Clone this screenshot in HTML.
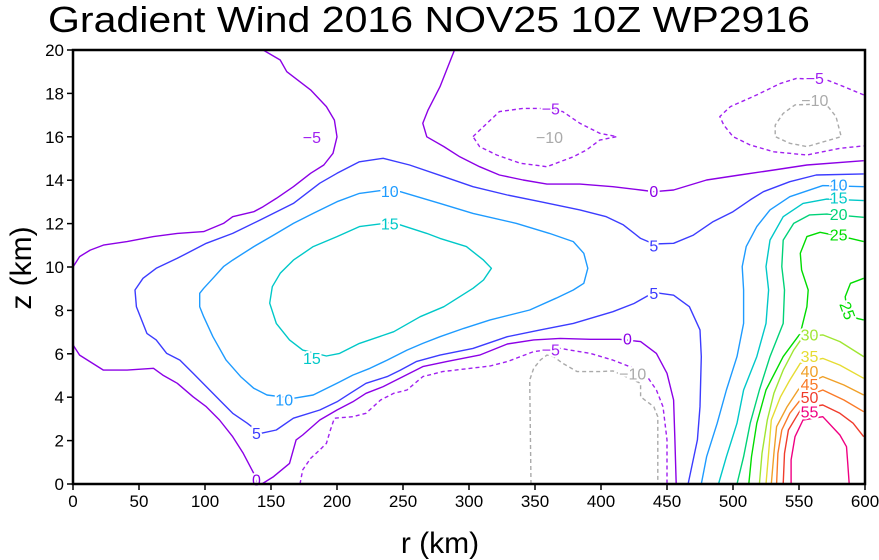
<!DOCTYPE html>
<html><head><meta charset="utf-8">
<style>
html,body{margin:0;padding:0;background:#fff;}
svg{display:block;font-family:"Liberation Sans",sans-serif;}
</style></head>
<body>
<svg id="chart" width="879" height="560" viewBox="0 0 879 560">
<text x="48" y="32" font-size="36" font-weight="normal" textLength="762" lengthAdjust="spacingAndGlyphs">Gradient Wind 2016 NOV25 10Z   WP2916</text>
<g id="contours"></g>
<g id="labels"></g>
<rect x="73" y="50" width="792" height="434" fill="none" stroke="#000" stroke-width="2.5"/>
<g id="axes"></g>
<text x="440" y="553" font-size="30" text-anchor="middle">r (km)</text>
<text transform="translate(31,268) rotate(-90)" font-size="30" text-anchor="middle">z (km)</text>
</svg>
<script>
const xTicks=[0,50,100,150,200,250,300,350,400,450,500,550,600];
const yTicks=[0,2,4,6,8,10,12,14,16,18,20];
// contour values, colors, dash flags
const levels=["0","0","0","0","5","10","15","10","15","20","25","25","30","35","40","45","50","55","-5","-5","-5","-10","-10"];
// r (km) coords per contour
const rs=[
[144,157,162,180,192,198,200,197,190,180,167,154,144,137,121,114,99,79,61,41,23,13,5,0],
[289,283,278,269,265,268,281,293,308,323,341,359,384,409,430,440,455,480,505,531,556,599],
[0,5,23,41,61,68,79,91,101,111,121,129,137,139],
[143,152,164,169,174,187,200,212,222,235,250,265,283,308,329,349,369,392,414,430,442,450,455,456,457],
[599,563,543,523,513,500,485,470,455,440,430,417,404,384,354,329,303,281,255,235,217,200,187,167,142,121,101,79,63,53,47,48,56,63,71,81,91,101,111,121,132,142,154,167,187,200,210,222,238,248,260,278,303,329,354,379,409,425,440,455,467,475,476,475,473,466],
[278,303,336,361,379,387,390,387,379,366,346,316,296,278,265,253,238,225,212,200,182,167,147,137,127,116,106,99,96,96,99,106,114,121,137,152,167,182,200,217,233,248,278],
[240,217,200,182,167,157,151,149,154,164,174,192,202,217,243,263,281,303,311,317,311,298,278,268,248,240],
[476,480,488,495,503,508,508,507,510,518,528,543,568,599],
[489,495,503,508,518,525,527,525,528,538,553,571,599],
[503,508,513,520,528,538,539,537,538,546,558,571,599],
[512,514,518,525,538,551,556,557,552,551,556,566,589,599],
[599,589,585,586,594,599],
[520,522,526,531,538,546,553,568,581,599],
[525,527,529,536,543,551,568,581,599],
[529,531,533,541,551,568,584,599],
[533,534,537,543,552,568,584,599],
[538,539,542,548,552,568,581,591,599],
[544,544,547,553,568,581,586,587,588],
[303,311,323,341,354,371,384,399,412,399,389,379,359,339,321,308,303],
[599,584,571,548,536,518,498,490,493,500,513,531,556,581,599],
[172,174,180,187,192,195,198,212,222,233,243,253,265,280,316,329,349,369,392,409,425,435,442,447,450,450],
[572,578,582,573,556,543,532,532,538,547,560,572],
[347,346,349,354,359,364,371,382,399,409,430,430,440,443,443,443]
];
// z (km) coords per contour
const zs=[
[20,19.54,19.0,18.16,17.39,16.77,16.0,15.24,14.7,14.32,13.7,13.16,12.78,12.55,12.32,12.01,11.63,11.55,11.4,11.17,11.01,10.78,10.48,10.0],
[20,19.08,18.31,17.24,16.62,16.0,15.55,15.08,14.62,14.24,14.01,13.82,13.82,13.7,13.55,13.47,13.55,14.01,14.24,14.47,14.7,14.9],
[6.41,5.94,5.25,5.25,5.33,5.02,4.64,4.02,3.56,2.95,2.18,1.41,0.49,0],
[0,0.34,0.95,2.03,2.26,2.95,3.41,3.79,4.18,4.49,4.95,5.41,5.64,5.94,6.45,6.64,6.71,6.67,6.67,6.56,6.02,5.1,3.87,2.03,0],
[14.29,14.24,13.93,13.47,13.09,12.55,12.09,11.47,11.09,11.06,11.32,11.94,12.32,12.63,13.01,13.32,13.7,14.16,14.7,15.01,14.85,14.32,13.86,12.93,12.17,11.55,11.09,10.4,9.94,9.48,8.94,8.17,6.94,6.64,6.02,5.71,5.1,4.49,3.87,3.26,2.8,2.33,2.49,3.03,3.41,3.79,4.18,4.64,4.95,5.25,5.64,5.94,6.25,6.79,7.1,7.4,7.94,8.32,8.83,8.7,8.17,7.1,5.87,3.56,2.03,0],
[12.93,12.47,12.01,11.55,11.17,10.63,9.94,9.25,8.94,8.56,8.02,7.56,7.17,6.79,6.48,6.17,5.71,5.33,5.02,4.64,4.1,3.95,4.1,4.41,4.95,5.71,6.79,7.71,8.17,8.79,9.02,9.48,10.02,10.32,10.94,11.47,12.01,12.47,13.01,13.39,13.52,13.47,12.93],
[12.04,11.86,11.4,10.94,10.32,9.71,9.09,8.33,7.4,6.64,6.17,5.9,6.02,6.48,7.02,7.71,8.17,9.02,9.4,9.94,10.32,10.94,11.32,11.55,11.94,12.04],
[0,1.26,2.8,4.33,5.87,7.4,8.94,10.02,10.94,11.86,12.63,13.24,13.75,13.7],
[0,1.26,2.8,4.33,5.87,7.4,8.94,10.02,11.24,12.32,12.93,13.13,13.06],
[0,1.26,2.8,4.33,5.87,7.4,8.94,10.02,11.24,12.01,12.4,12.44,12.29],
[0,1.26,2.8,4.33,5.87,6.94,8.17,8.94,9.86,10.63,11.4,11.6,11.32,11.17],
[9.48,9.25,8.63,8.17,7.63,7.56],
[0,1.41,2.95,4.18,5.25,6.17,6.79,6.87,6.56,5.87],
[0,1.41,2.95,4.02,4.79,5.56,5.79,5.48,4.87],
[0,1.41,2.64,3.56,4.49,4.95,4.56,4.1],
[0,1.41,2.49,3.26,3.95,4.33,3.87,3.33],
[0,1.41,2.49,3.1,3.49,3.64,3.26,2.8,2.18],
[0,1.11,2.18,2.95,3.1,2.26,1.72,0.92,0],
[16.01,16.47,17.16,17.31,17.31,17.16,16.62,16.16,16.01,15.85,15.39,15.08,14.62,14.78,15.16,15.55,16.01],
[17.93,18.31,18.62,18.69,18.46,17.93,17.39,16.93,16.54,16.01,15.62,15.31,15.16,15.47,15.58],
[0,0.65,1.18,1.57,1.87,2.49,3.03,3.1,3.26,3.87,4.18,4.33,4.95,5.18,5.44,5.64,6.1,6.25,6.02,5.71,5.33,4.95,4.33,3.56,2.03,0],
[17.39,16.93,16.01,15.85,15.55,15.7,16.01,16.54,17.08,17.47,17.5,17.39],
[0,4.79,5.33,5.71,5.94,5.87,5.56,5.18,5.18,5.21,4.64,4.02,3.56,3.1,2.03,0]
];
// label text and positions in data coords
const labelText=["-5","0","0","5","5","5","0","10","10","15","15","10","15","20","25","25","30","35","40","45","50","55","-5","-10","-5","-10","-5","-10"];
const labelR=[181,440,420,440,440,139,139,240,160,240,181,580,580,580,580,587,558,558,558,558,558,558,362,361,562,562,362,424];
const labelZ=[16.0,13.5,6.7,11.0,8.8,2.35,0.2,13.5,3.9,12.0,5.8,13.8,13.2,12.45,11.5,8.0,6.9,5.9,5.2,4.6,4.0,3.35,17.3,16.0,18.7,17.7,6.2,5.1];

const X0=73,X1=865,Y0=484,Y1=50;
function sx(r){return X0+(r/600)*(X1-X0);}
function sy(z){return Y0-(z/20)*(Y0-Y1);}
const colorMap={"0":"#8c00e6","5":"#3c3cff","10":"#1e9bff","15":"#00c8c8","20":"#00d278","25":"#00dc00","30":"#a0e632","35":"#e6dc32","40":"#f0a028","45":"#fa7a28","50":"#f03c2c","55":"#f00082","-5":"#a020f0","-10":"#aaaaaa"};
const NS="http://www.w3.org/2000/svg";
const cg=document.getElementById('contours');
for(let i=0;i<levels.length;i++){
  const v=levels[i];
  const d=rs[i].map((r,j)=>(j?'L':'M')+sx(r).toFixed(1)+','+sy(zs[i][j]).toFixed(1)).join(' ');
  const p=document.createElementNS(NS,'path');
  p.setAttribute('d',d);
  p.setAttribute('fill','none');
  p.setAttribute('stroke',colorMap[v]);
  p.setAttribute('stroke-width','1.4');
  p.setAttribute('stroke-linejoin','round');
  if(v.startsWith('-'))p.setAttribute('stroke-dasharray','4 3');
  
  
  cg.appendChild(p);
}
const lg=document.getElementById('labels');
for(let i=0;i<labelText.length;i++){
  const v=labelText[i];
  const t=document.createElementNS(NS,'text');
  t.setAttribute('x',sx(labelR[i]));
  t.setAttribute('y',sy(labelZ[i])+6);
  t.setAttribute('font-size','16');
  t.setAttribute('text-anchor','middle');
  t.setAttribute('fill',colorMap[v]);
  t.setAttribute('stroke','#fff');
  t.setAttribute('stroke-width','4');
  t.setAttribute('paint-order','stroke');
  if(i===15)t.setAttribute('transform','rotate(70 '+sx(labelR[i])+' '+sy(labelZ[i])+')');
  t.textContent=v.replace('-','\u2212');
  
  
  lg.appendChild(t);
}
const ag=document.getElementById('axes');
xTicks.forEach(v=>{
  const l=document.createElementNS(NS,'line');
  l.setAttribute('x1',sx(v));l.setAttribute('x2',sx(v));
  l.setAttribute('y1',Y0);l.setAttribute('y2',Y0+6);
  l.setAttribute('stroke','#000');l.setAttribute('stroke-width','1.5');
  
  
  ag.appendChild(l);
  const t=document.createElementNS(NS,'text');
  t.setAttribute('x',sx(v));t.setAttribute('y',Y0+23);
  t.setAttribute('font-size','17');t.setAttribute('text-anchor','middle');
  t.textContent=v;
  
  
  ag.appendChild(t);
});
yTicks.forEach(v=>{
  const l=document.createElementNS(NS,'line');
  l.setAttribute('x1',X0-6);l.setAttribute('x2',X0);
  l.setAttribute('y1',sy(v));l.setAttribute('y2',sy(v));
  l.setAttribute('stroke','#000');l.setAttribute('stroke-width','1.5');
  
  
  ag.appendChild(l);
  const t=document.createElementNS(NS,'text');
  t.setAttribute('x',X0-9);t.setAttribute('y',sy(v)+6);
  t.setAttribute('font-size','17');t.setAttribute('text-anchor','end');
  t.textContent=v;
  
  
  ag.appendChild(t);
});
</script>
</body></html>
